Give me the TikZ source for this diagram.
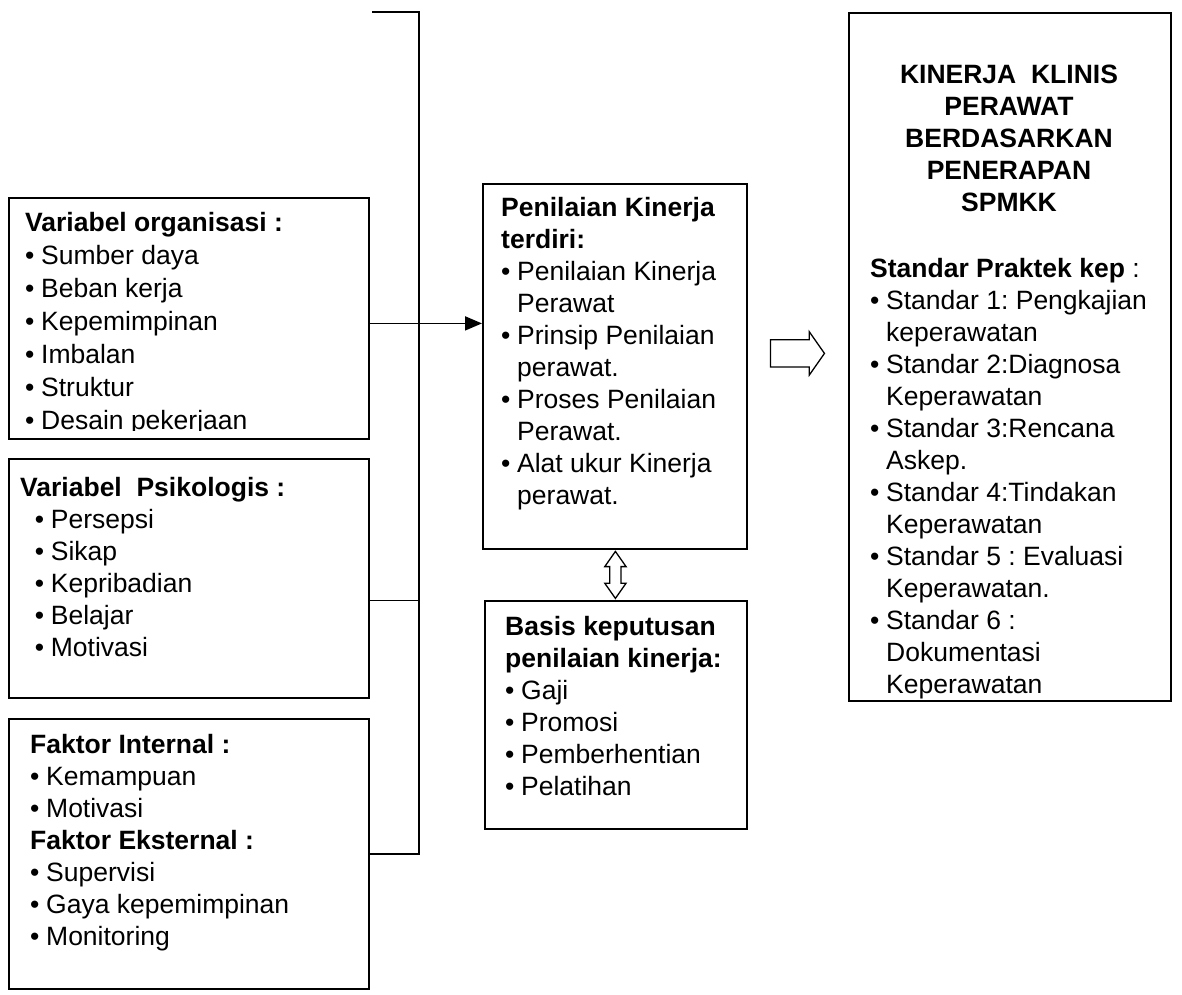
\documentclass[tikz,border=0pt]{standalone}
\usepackage{fontspec}
\setmainfont{Liberation Sans}
\usetikzlibrary{arrows.meta,shapes.arrows,calc}

% bullet and hanging indent for list lines
\newcommand{\bul}{\makebox[16pt][l]{\textbullet}}
\newcommand{\ind}{\hspace*{16pt}}

\begin{document}
\frenchspacing
\begin{tikzpicture}[x=1pt,y=-1pt,
    box/.style={draw,line width=1.8pt,anchor=north west,inner sep=0pt},
    txt/.style={anchor=north west,align=left,inner sep=0pt,
      font=\fontsize{26.5}{32}\selectfont},
    ttl/.style={anchor=north,align=center,inner sep=0pt,
      font=\fontsize{26.5}{32}\selectfont\bfseries},
    line/.style={line width=1.8pt},
    hollow/.style={draw,line width=1.3pt}]
  \useasboundingbox (0,0) rectangle (1182,994);

  % left boxes
  \node[box,minimum width=360pt,minimum height=241pt] (org) at (8,197) {};
  \node[box,minimum width=360pt,minimum height=239pt] (psi) at (8,458) {};
  \node[box,minimum width=360pt,minimum height=270pt] (fakt) at (8,718) {};
  % middle and right boxes
  \node[box,minimum width=264pt,minimum height=365pt] (pk) at (482,183) {};
  \node[box,minimum width=262pt,minimum height=228pt] (basis) at (484,600) {};
  \node[box,minimum width=322pt,minimum height=688pt] (std) at (848,12) {};

  % box texts
  \begin{scope}
    \clip (org.north west) rectangle ([yshift=9pt]org.south east);
    \node[txt,font=\fontsize{26.5}{33}\selectfont] (orgtxt) at (25,212)
      {\textbf{Variabel organisasi :}\\
      \bul Sumber daya\\ \bul Beban kerja\\ \bul Kepemimpinan\\
      \bul Imbalan\\ \bul Struktur\\ \bul Desain pekerjaan};
  \end{scope}
  \node[txt] (psitxt) at (20,477) {\textbf{Variabel\ \ Psikologis :}\\
    \ \ \bul Persepsi\\ \ \ \bul Sikap\\ \ \ \bul Kepribadian\\
    \ \ \bul Belajar\\ \ \ \bul Motivasi};
  \node[txt] (fakttxt) at (30,734) {\textbf{Faktor Internal :}\\
    \bul Kemampuan\\ \bul Motivasi\\ \textbf{Faktor Eksternal :}\\
    \bul Supervisi\\ \bul Gaya kepemimpinan\\ \bul Monitoring};
  \node[txt] (pktxt) at (501,197) {\textbf{Penilaian Kinerja}\\ \textbf{terdiri:}\\
    \bul Penilaian Kinerja\\ \ind Perawat\\ \bul Prinsip Penilaian\\
    \ind perawat.\\ \bul Proses Penilaian\\ \ind Perawat.\\
    \bul Alat ukur Kinerja\\ \ind perawat.};
  \node[txt] (basistxt) at (505,616) {\textbf{Basis keputusan}\\
    \textbf{penilaian kinerja:}\\ \bul Gaji\\ \bul Promosi\\
    \bul Pemberhentian\\ \bul Pelatihan};
  \node[ttl] (stdttl) at (1009,65) {KINERJA\ \ KLINIS\\ PERAWAT\\
    BERDASARKAN\\ PENERAPAN\\ SPMKK};
  \node[txt] (stdtxt) at (870,258) {\textbf{Standar Praktek kep} :\\
    \bul Standar 1: Pengkajian\\ \ind keperawatan\\
    \bul Standar 2:Diagnosa\\ \ind Keperawatan\\
    \bul Standar 3:Rencana\\ \ind Askep.\\
    \bul Standar 4:Tindakan\\ \ind Keperawatan\\
    \bul Standar 5 : Evaluasi\\ \ind Keperawatan.\\
    \bul Standar 6 :\\ \ind Dokumentasi\\ \ind Keperawatan};

  % bus line joining the left boxes
  \coordinate (free) at (372,12);
  \coordinate (busT) at (419,12);
  \coordinate (busB) at (busT |- fakt.east);
  \draw[line] (free) -- (busT) -- (busB) -- (fakt.east);
  \draw[line] ([yshift=-22pt]psi.east) -- ([yshift=-22pt]psi.east -| busT);
  \draw[line,-{Triangle[length=17pt,width=14pt]}]
    ([yshift=-5pt]org.east) -- ([yshift=-5pt]org.east -| pk.west);

  % hollow block arrows
  \node[hollow,double arrow,rotate=90,minimum height=47pt,
    inner xsep=0pt,inner ysep=5pt,
    double arrow head extend=5pt,double arrow tip angle=70]
    (dbl) at ($(pk.south)!0.5!(basis.north)$) {};
  \node[hollow,single arrow,anchor=tail,minimum height=54pt,
    inner xsep=0pt,inner ysep=13pt,
    single arrow head extend=8pt,single arrow tip angle=110]
    (sar) at ([xshift=22pt,yshift=13pt]pk.east) {};
\end{tikzpicture}
\end{document}
